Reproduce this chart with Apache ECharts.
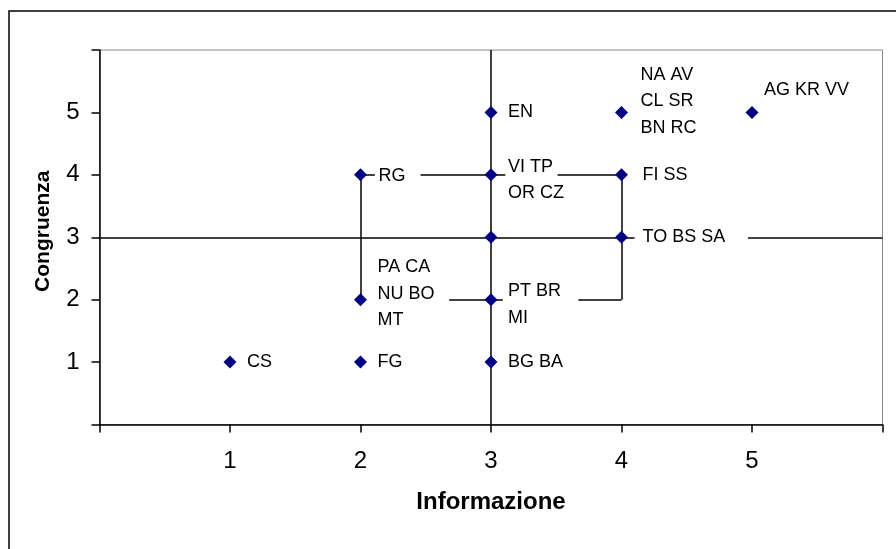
<!DOCTYPE html>
<html>
<head>
<meta charset="utf-8">
<script src="https://cdn.jsdelivr.net/npm/echarts@6/dist/echarts.min.js"></script>
<style>
html,body{margin:0;padding:0;background:#fff;}
#chart{width:896px;height:549px;}
</style>
</head>
<body>
<div id="chart"></div>
<script>
// ---- data ----
var pointLabels = ['CS', 'FG', 'RG', 'PA CA\nNU BO\nMT', 'BG BA', '', 'PT BR\nMI', 'VI TP\nOR CZ', 'EN', 'TO BS SA', 'FI SS', 'NA AV\nCL SR\nBN RC', 'AG KR VV'];
var informazione = [1, 2, 2, 2, 3, 3, 3, 3, 3, 4, 4, 4, 5];
var congruenza   = [1, 1, 4, 2, 1, 3, 2, 4, 5, 3, 4, 5, 5];
var tickValues = [1, 2, 3, 4, 5];
// connector / quadrant segments (data units)
var segments = [
  [[3, 0], [3, 6]],
  [[0, 3], [4.10, 3]],
  [[4.97, 3], [6, 3]],
  [[2, 4], [2.11, 4]],
  [[2.46, 4], [3.11, 4]],
  [[3.51, 4], [4, 4]],
  [[2, 4], [2, 2]],
  [[4, 4], [4, 2]],
  [[2.68, 2], [3.09, 2]],
  [[3.67, 2], [4, 2]]
];
// label nudges (layout only)
var labelNudge = {
  'PA CA\nNU BO\nMT': [0, -6],
  'PT BR\nMI': [0, 5],
  'VI TP\nOR CZ': [0, 5],
  'TO BS SA': [4, 0],
  'FI SS': [4, 0],
  'NA AV\nCL SR\nBN RC': [2, -11],
  'AG KR VV': [-5, -22],
  'RG': [1, 1]
};

var FONT = 'Liberation Sans, Arial, sans-serif';
var chart = echarts.init(document.getElementById('chart'));

var scatterData = informazione.map(function (x, i) {
  var item = { value: [x, congruenza[i]], name: pointLabels[i] };
  var n = labelNudge[pointLabels[i]];
  if (n) item.label = { offset: n };
  return item;
});

var option = {
  animation: false,
  backgroundColor: '#fff',
  graphic: [{
    type: 'rect',
    shape: { x: 9, y: 11, width: 1000, height: 1000 },
    style: { fill: null, stroke: '#000', lineWidth: 1.5 },
    z: 0, silent: true
  }],
  grid: {
    left: 99.5, top: 50, right: 13.5, bottom: 124.5,
    show: true, borderColor: '#888', borderWidth: 1, backgroundColor: 'transparent'
  },
  xAxis: {
    type: 'value', min: 0, max: 6, interval: 1,
    name: 'Informazione', nameLocation: 'middle', nameGap: 66,
    nameTextStyle: { fontFamily: FONT, fontWeight: 'bold', fontSize: 24, color: '#000' },
    axisLine: { show: true, onZero: false, lineStyle: { color: '#000', width: 1.5 } },
    axisTick: { show: true, length: 8, lineStyle: { color: '#000', width: 1.5 } },
    axisLabel: {
      margin: 25, fontFamily: FONT, fontSize: 24, color: '#000',
      formatter: function (v) { return tickValues.indexOf(v) >= 0 ? String(v) : ''; }
    },
    splitLine: { show: false }
  },
  yAxis: {
    type: 'value', min: 0, max: 6, interval: 1,
    name: 'Congruenza', nameLocation: 'middle', nameGap: 46,
    nameTextStyle: { fontFamily: FONT, fontWeight: 'bold', fontSize: 21, color: '#000', padding: [0, 0, 0, 12] },
    axisLine: { show: true, onZero: false, lineStyle: { color: '#000', width: 1.5 } },
    axisTick: { show: true, length: 8, lineStyle: { color: '#000', width: 1.5 } },
    axisLabel: {
      margin: 20, fontFamily: FONT, fontSize: 24, color: '#000',
      formatter: function (v) { return tickValues.indexOf(v) >= 0 ? String(v) : ''; }
    },
    splitLine: { show: false }
  },
  series: [{
    type: 'lines',
    coordinateSystem: 'cartesian2d',
    silent: true,
    z: 2,
    lineStyle: { color: '#000', width: 1.5, opacity: 1 },
    data: segments.map(function (s) { return { coords: s }; })
  }, {
    type: 'scatter',
    z: 3,
    symbol: 'diamond',
    symbolSize: 13,
    itemStyle: { color: '#000080', opacity: 1 },
    label: {
      show: true, position: 'right', distance: 10.5,
      formatter: function (p) { return p.name; },
      fontFamily: FONT, fontSize: 18, color: '#000', opacity: 1, lineHeight: 26.5,
      align: 'left', verticalAlign: 'middle'
    },
    emphasis: { disabled: true },
    data: scatterData
  }]
};
chart.setOption(option);
</script>
</body>
</html>
